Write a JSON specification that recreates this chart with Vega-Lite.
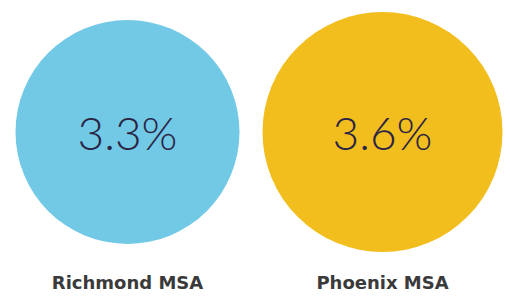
{
  "$schema": "https://vega.github.io/schema/vega-lite/v6.json",
  "width": 510,
  "height": 297,
  "padding": 0,
  "autosize": {"type": "fit", "contains": "padding"},
  "background": "white",
  "config": {"view": {"stroke": null}},
  "data": {"values": [
    {"name": "Richmond MSA", "value": 3.3, "label": "3.3%"},
    {"name": "Phoenix MSA", "value": 3.6, "label": "3.6%"}
  ]},
  "encoding": {
    "x": {"field": "name", "type": "nominal", "sort": null, "axis": null,
          "scale": {"type": "band", "paddingInner": 0, "paddingOuter": 0.0}}
  },
  "layer": [
    {
      "mark": {"type": "point", "filled": true, "shape": "circle", "opacity": 1, "strokeWidth": 0},
      "encoding": {
        "y": {"datum": "circle", "type": "nominal", "axis": null,
              "scale": {"type": "point", "domain": ["circle", "label"], "range": [132, 284], "padding": 0}},
        "size": {"field": "value", "type": "quantitative", "legend": null,
                 "scale": {"domain": [3.3, 3.6], "range": [50176, 57600], "zero": false}},
        "color": {"field": "name", "type": "nominal", "legend": null,
                  "scale": {"domain": ["Richmond MSA", "Phoenix MSA"], "range": ["#72C9E5", "#F2BE1E"]}}
      }
    },
    {
      "mark": {"type": "text", "font": "Lato", "fontWeight": 300, "fontSize": 46, "color": "#2A2444", "baseline": "middle", "align": "center", "dy": 4},
      "encoding": {
        "y": {"datum": "circle", "type": "nominal"},
        "text": {"field": "label"}
      }
    },
    {
      "mark": {"type": "text", "font": "DejaVu Sans", "fontWeight": "bold", "fontSize": 18, "color": "#3A3A3A", "baseline": "middle", "align": "center"},
      "encoding": {
        "y": {"datum": "label", "type": "nominal"},
        "text": {"field": "name"}
      }
    }
  ]
}
